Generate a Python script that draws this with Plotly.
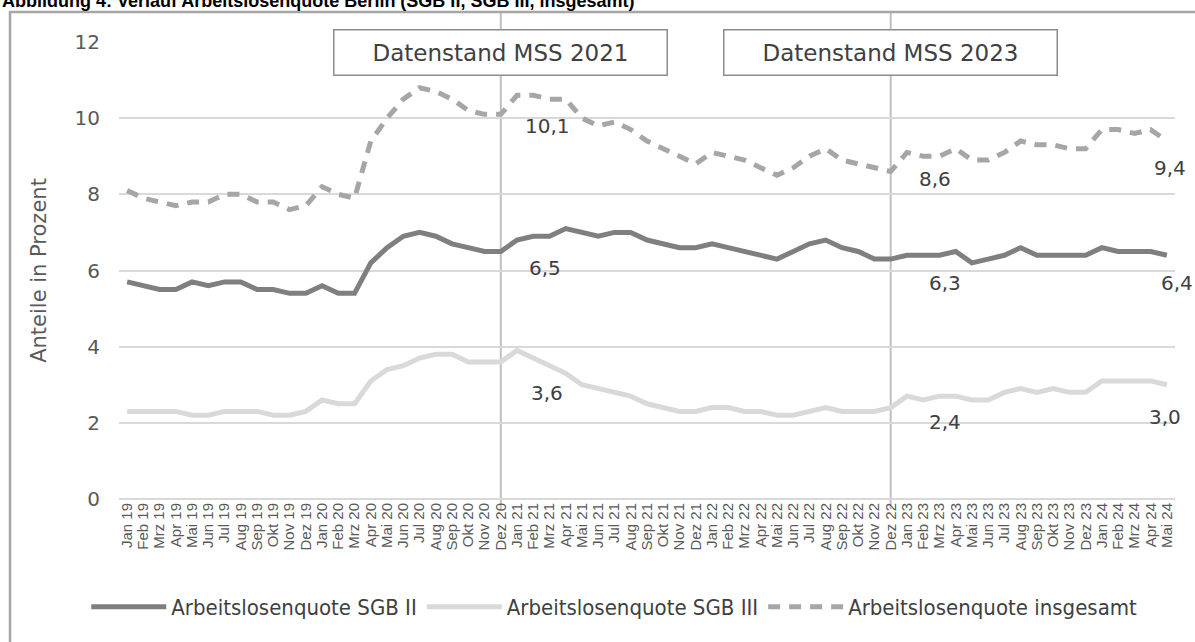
import plotly.graph_objects as go

# ---------------- data ----------------
months = ["Jan", "Feb", "Mrz", "Apr", "Mai", "Jun", "Jul", "Aug", "Sep", "Okt", "Nov", "Dez"]
years = ["19", "20", "21", "22", "23", "24"]
categories = [f"{m} {y}" for y in years for m in months][:65]

sgb2 = [5.7, 5.6, 5.5, 5.5, 5.7, 5.6, 5.7, 5.7, 5.5, 5.5, 5.4, 5.4,
        5.6, 5.4, 5.4, 6.2, 6.6, 6.9, 7.0, 6.9, 6.7, 6.6, 6.5, 6.5,
        6.8, 6.9, 6.9, 7.1, 7.0, 6.9, 7.0, 7.0, 6.8, 6.7, 6.6, 6.6,
        6.7, 6.6, 6.5, 6.4, 6.3, 6.5, 6.7, 6.8, 6.6, 6.5, 6.3, 6.3,
        6.4, 6.4, 6.4, 6.5, 6.2, 6.3, 6.4, 6.6, 6.4, 6.4, 6.4, 6.4,
        6.6, 6.5, 6.5, 6.5, 6.4]

sgb3 = [2.3, 2.3, 2.3, 2.3, 2.2, 2.2, 2.3, 2.3, 2.3, 2.2, 2.2, 2.3,
        2.6, 2.5, 2.5, 3.1, 3.4, 3.5, 3.7, 3.8, 3.8, 3.6, 3.6, 3.6,
        3.9, 3.7, 3.5, 3.3, 3.0, 2.9, 2.8, 2.7, 2.5, 2.4, 2.3, 2.3,
        2.4, 2.4, 2.3, 2.3, 2.2, 2.2, 2.3, 2.4, 2.3, 2.3, 2.3, 2.4,
        2.7, 2.6, 2.7, 2.7, 2.6, 2.6, 2.8, 2.9, 2.8, 2.9, 2.8, 2.8,
        3.1, 3.1, 3.1, 3.1, 3.0]

total = [8.1, 7.9, 7.8, 7.7, 7.8, 7.8, 8.0, 8.0, 7.8, 7.8, 7.6, 7.7,
         8.2, 8.0, 7.9, 9.4, 10.0, 10.5, 10.8, 10.7, 10.5, 10.2, 10.1, 10.1,
         10.6, 10.6, 10.5, 10.5, 10.0, 9.8, 9.9, 9.7, 9.4, 9.2, 9.0, 8.8,
         9.1, 9.0, 8.9, 8.7, 8.5, 8.7, 9.0, 9.2, 8.9, 8.8, 8.7, 8.6,
         9.1, 9.0, 9.0, 9.2, 8.9, 8.9, 9.1, 9.4, 9.3, 9.3, 9.2, 9.2,
         9.7, 9.7, 9.6, 9.7, 9.4]

series_names = ["Arbeitslosenquote SGB II", "Arbeitslosenquote SGB III", "Arbeitslosenquote insgesamt"]
marker_months = ["Dez 20", "Dez 22"]          # vertical reference lines
box_texts = ["Datenstand MSS 2021", "Datenstand MSS 2023"]
label_months = ["Dez 20", "Dez 22", "Mai 24"]  # months with value labels
y_ticks = [0, 2, 4, 6, 8, 10, 12]

# ---------------- style ----------------
TXT = "#595959"
FONT = "'DejaVu Sans', Verdana, sans-serif"
colors = ["#7f7f7f", "#d9d9d9", "#a6a6a6"]
dashes = ["solid", "solid", "12px,9px"]
values = [sgb2, sgb3, total]

fig = go.Figure()
for name, vals, col, dsh in zip(series_names, values, colors, dashes):
    fig.add_trace(go.Scatter(x=categories, y=vals, mode="lines", name=name,
                             line=dict(color=col, width=5, dash=dsh)))

# value labels (offsets in px per series and label month)
offsets = {
    0: [(44, -17), (54, -24), (10, -28)],
    1: [(46, -31), (54, -14), (-2, -32)],
    2: [(47, -12), (44, -8), (3, -27)],
}
for si, vals in enumerate(values):
    for li, m in enumerate(label_months):
        idx = categories.index(m)
        v = vals[idx]
        dx, dy = offsets[si][li]
        fig.add_annotation(x=m, y=v, xref="x", yref="y", text=f"{v:.1f}".replace(".", ","),
                           showarrow=False, xshift=dx, yshift=dy,
                           font=dict(family=FONT, size=20, color="#404040"))

# vertical reference lines
for m in marker_months:
    fig.add_shape(type="line", xref="x", yref="paper", x0=m, x1=m, y0=-0.022, y1=1.066,
                  line=dict(color="#bfbfbf", width=2), layer="below")

# text boxes
for m, t in zip(marker_months, box_texts):
    fig.add_annotation(x=m, y=0.976, xref="x", yref="paper", text=t, showarrow=False,
                       width=330, height=42, bgcolor="white", bordercolor="#8c8c8c",
                       borderwidth=1.5, borderpad=1, xanchor="center", yanchor="middle",
                       font=dict(family=FONT, size=23, color="#404040"))

# outer frame
fig.add_shape(type="rect", xref="paper", yref="paper", x0=-0.1032, x1=1.03, y0=-0.34, y1=1.0656,
              line=dict(color="#a6a6a6", width=2.5), fillcolor="rgba(0,0,0,0)", layer="below")

# cut-off title at the very top
fig.add_annotation(xref="paper", yref="paper", x=-0.1127, y=1.0635, xanchor="left", yanchor="bottom",
                   text="<b>Abbildung 4: Verlauf Arbeitslosenquote Berlin (SGB II, SGB III, insgesamt)</b>",
                   showarrow=False, font=dict(family="Liberation Sans, Arial, sans-serif", size=18, color="black"))

fig.update_layout(
    width=1195, height=642,
    margin=dict(l=119, r=20, t=42, b=143, autoexpand=False),
    paper_bgcolor="white", plot_bgcolor="white",
    showlegend=True,
    legend=dict(orientation="h", x=0.469, xanchor="center", y=-0.236, yanchor="middle",
                font=dict(family="'Liberation Sans Narrow', 'DejaVu Sans Condensed', 'Liberation Sans', sans-serif",
                          size=22, color="#404040"),
                itemwidth=75, tracegroupgap=0),
    xaxis=dict(type="category", range=[-0.5, len(categories) - 0.5], tickangle=-90,
               tickmode="array", tickvals=categories, ticktext=categories,
               showgrid=False, showline=False, ticks="", zeroline=False, automargin=False,
               tickfont=dict(family="Liberation Sans, Arial, sans-serif", size=15, color=TXT)),
    yaxis=dict(range=[0, 12], tickvals=y_ticks, showgrid=True, gridcolor="#d9d9d9", gridwidth=2,
               zeroline=True, zerolinecolor="#d9d9d9", zerolinewidth=2, showline=False, ticks="",
               ticklabelstandoff=18, automargin=False,
               tickfont=dict(family=FONT, size=20, color=TXT),
               title=dict(text="Anteile in Prozent", standoff=22,
                          font=dict(family=FONT, size=21, color=TXT))),
)

fig.write_html("out.html", config={"displayModeBar": False},
               post_script="document.body.style.margin='0';document.body.style.overflow='hidden';")
